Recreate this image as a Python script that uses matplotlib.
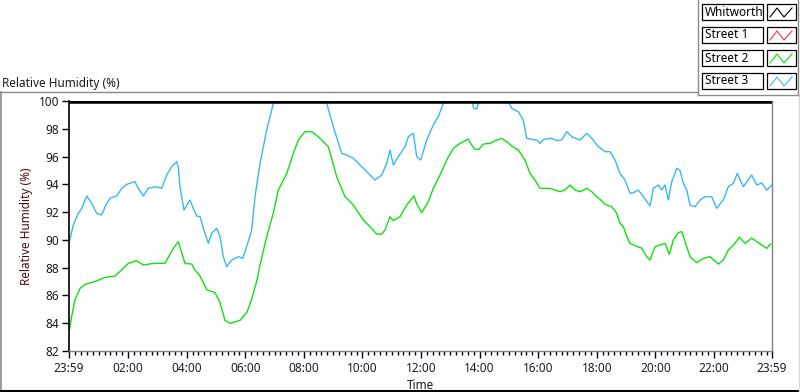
import matplotlib
matplotlib.use("Agg")
import matplotlib.pyplot as plt
from matplotlib.lines import Line2D
from matplotlib.patches import Rectangle
import numpy as np

plt.rcParams['font.family'] = ['Noto Sans', 'DejaVu Sans']

# ---------------- data ----------------
series_names = ["Whitworth", "Street 1", "Street 2", "Street 3"]
series_colors = ["#000000", "#ff3030", "#10e010", "#38b8f0"]

x_tick_labels = ["23:59", "02:00", "04:00", "06:00", "08:00", "10:00", "12:00",
                 "14:00", "16:00", "18:00", "20:00", "22:00", "23:59"]
y_ticks = [82, 84, 86, 88, 90, 92, 94, 96, 98, 100]

# hours since 23:59
whitworth_t = [0.0, 24.0]
whitworth_v = [100.0, 100.0]

street1_t = []
street1_v = []

street2_t = [0.0, 0.102, 0.205, 0.376, 0.546, 0.888, 1.229, 1.570, 1.854, 2.024,
             2.311, 2.537, 2.878, 3.277, 3.561, 3.731, 3.960, 4.189, 4.301, 4.472,
             4.711, 4.984, 5.155, 5.326, 5.496, 5.838, 6.077, 6.248, 6.418, 6.521,
             6.750, 6.975, 7.146, 7.433, 7.658, 7.829, 8.057, 8.286, 8.511, 8.853,
             9.139, 9.423, 9.706, 10.048, 10.276, 10.505, 10.676, 10.788, 10.959, 11.072,
             11.300, 11.529, 11.778, 11.871, 12.041, 12.266, 12.437, 12.666, 12.894, 13.120,
             13.348, 13.632, 13.748, 13.860, 13.997, 14.144, 14.373, 14.601, 14.772, 14.943,
             15.114, 15.339, 15.568, 15.738, 15.909, 16.080, 16.421, 16.762, 16.933, 17.104,
             17.275, 17.446, 17.675, 17.846, 18.017, 18.130, 18.300, 18.529, 18.700, 18.812,
             18.925, 19.041, 19.153, 19.382, 19.553, 19.724, 19.836, 20.006, 20.177, 20.348,
             20.495, 20.632, 20.802, 20.918, 21.031, 21.201, 21.430, 21.655, 21.884, 22.167,
             22.338, 22.509, 22.737, 22.884, 23.078, 23.307, 23.478, 23.649, 23.819, 23.955]
street2_v = [83.4, 84.6, 85.7, 86.5, 86.8, 87.0, 87.3, 87.4, 87.95, 88.31,
             88.5, 88.19, 88.31, 88.31, 89.39, 89.87, 88.31, 88.26, 87.83, 87.4,
             86.4, 86.2, 85.5, 84.2, 84.0, 84.2, 84.8, 85.8, 87.1, 88.19,
             90.24, 91.92, 93.59, 94.79, 96.23, 97.19, 97.79, 97.79, 97.43, 96.71,
             94.55, 93.11, 92.51, 91.43, 90.95, 90.42, 90.42, 90.71, 91.67, 91.39,
             91.67, 92.51, 93.16, 92.6, 91.96, 92.75, 93.71, 94.67, 95.75, 96.59,
             96.95, 97.26, 96.83, 96.52, 96.52, 96.9, 96.95, 97.19, 97.31, 97.07,
             96.76, 96.47, 95.75, 94.79, 94.31, 93.71, 93.71, 93.47, 93.6, 93.95,
             93.59, 93.47, 93.71, 93.47, 93.11, 92.92, 92.56, 92.39, 91.91, 91.19,
             90.95, 90.24, 89.75, 89.53, 89.4, 88.79, 88.55, 89.51, 89.63, 89.75,
             88.96, 89.99, 90.52, 90.6, 89.88, 88.79, 88.36, 88.67, 88.79, 88.26,
             88.55, 89.27, 89.75, 90.19, 89.75, 90.12, 89.88, 89.63, 89.39, 89.7]

street3_t = [0.0, 0.147, 0.317, 0.434, 0.604, 0.775, 0.946, 1.116, 1.287, 1.400,
             1.628, 1.799, 1.970, 2.253, 2.366, 2.537, 2.707, 2.936, 3.165, 3.335,
             3.506, 3.677, 3.731, 3.789, 3.926, 4.131, 4.243, 4.360, 4.472, 4.585,
             4.756, 4.872, 5.042, 5.155, 5.268, 5.384, 5.554, 5.780, 5.930, 6.066,
             6.237, 6.350, 6.521, 6.750, 6.975, 7.030, 7.545, 8.230, 8.797, 9.024,
             9.310, 9.481, 9.706, 10.048, 10.276, 10.447, 10.676, 10.847, 10.959, 11.072,
             11.243, 11.471, 11.584, 11.755, 11.871, 12.007, 12.212, 12.437, 12.608, 12.778,
             13.178, 13.450, 13.758, 13.826, 13.929, 13.973, 14.370, 14.710, 15.032, 15.114,
             15.339, 15.510, 15.626, 15.797, 15.967, 16.080, 16.193, 16.480, 16.651, 16.822,
             16.992, 17.163, 17.446, 17.559, 17.675, 17.846, 18.071, 18.300, 18.470, 18.641,
             18.812, 18.982, 19.153, 19.266, 19.437, 19.608, 19.836, 19.949, 20.120, 20.236,
             20.348, 20.461, 20.577, 20.748, 20.860, 20.973, 21.089, 21.201, 21.372, 21.543,
             21.713, 21.942, 22.113, 22.338, 22.509, 22.680, 22.816, 23.021, 23.307, 23.478,
             23.649, 23.819, 24.0]
street3_v = [89.76, 91.07, 91.91, 92.27, 93.16, 92.63, 91.91, 91.79, 92.63, 93.0,
             93.16, 93.71, 94.0, 94.19, 93.71, 93.16, 93.71, 93.83, 93.71, 94.67,
             95.27, 95.63, 95.27, 93.83, 92.15, 92.87, 92.27, 91.72, 91.68, 90.84,
             89.76, 90.48, 90.84, 90.24, 88.79, 88.07, 88.55, 88.79, 88.67, 89.51,
             90.71, 93.11, 95.51, 97.91, 99.83, 100.3, 101.0, 101.0, 99.83, 98.15,
             96.23, 96.11, 95.87, 95.15, 94.67, 94.31, 94.67, 95.51, 96.47, 95.39,
             95.99, 96.71, 97.43, 97.67, 95.99, 95.75, 97.19, 98.27, 98.87, 99.83,
             100.5, 101.0, 99.9, 99.45, 99.45, 99.85, 100.6, 100.4, 99.85, 99.47,
             99.23, 98.63, 97.31, 97.24, 97.19, 96.95, 97.24, 97.31, 97.15, 97.2,
             97.79, 97.43, 97.19, 97.43, 97.67, 97.31, 96.71, 96.35, 96.35, 95.75,
             94.79, 94.31, 93.36, 93.4, 93.59, 93.11, 92.44, 93.71, 93.95, 93.59,
             93.95, 92.87, 94.19, 95.15, 95.0, 94.07, 93.59, 92.51, 92.39, 92.87,
             93.11, 93.11, 92.27, 92.87, 93.83, 94.07, 94.79, 93.83, 94.67, 93.95,
             94.1, 93.59, 93.95]

# ---------------- figure ----------------
W, H = 800, 392
fig = plt.figure(figsize=(W / 100, H / 100), dpi=100)
fig.patch.set_facecolor("white")


def fx(px):
    return px / W


def fy(py):
    return 1 - py / H


ax = fig.add_axes([fx(69), fy(351), fx(772) - fx(69), fy(101) - fy(351)])
ax.set_xlim(0, 24)
ax.set_ylim(82, 100)

ax.plot(street3_t, street3_v, color=series_colors[3], lw=1.0)
ax.plot(street2_t, street2_v, color=series_colors[2], lw=1.0)
ax.plot(street1_t, street1_v, color=series_colors[1], lw=1.0)
ax.plot(whitworth_t, whitworth_v, color=series_colors[0], lw=4.0, solid_capstyle='butt')

# spines
ax.spines["top"].set_visible(False)
ax.spines["left"].set_color("black")
ax.spines["left"].set_linewidth(1.2)
ax.spines["bottom"].set_color("#808080")
ax.spines["bottom"].set_linewidth(1.0)
ax.spines["right"].set_color("#808080")
ax.spines["right"].set_linewidth(1.0)

major_x = [0.0] + [2 * i + 1 / 60 for i in range(1, 12)] + [24.0]
ax.set_xticks(major_x)
ax.set_xticklabels(x_tick_labels)
minor_x = [v for v in np.arange(1 / 60, 24, 0.2) if min(abs(v - m) for m in major_x) > 0.05]
ax.set_xticks(minor_x, minor=True)
ax.set_yticks(y_ticks)
ax.set_yticklabels([str(v) for v in y_ticks])

ax.tick_params(axis="x", which="major", length=5, width=1, color="black",
               labelsize=8.5, labelcolor="#1a1a2a", pad=3)
ax.tick_params(axis="x", which="minor", length=3, width=1, color="black")
ax.tick_params(axis="y", which="major", length=5, width=1, color="black",
               labelsize=8.5, labelcolor="#1a1a1a", pad=2)

ax.set_xlabel("Time", fontsize=8.5, color="#1a1a1a", labelpad=3)
ax.set_ylabel("Relative Humidity (%)", fontsize=8.5, color="#4a0c0c")
ax.yaxis.set_label_coords((33 - 69) / 703, 0.5)

# outer frame
grey = "#8a8a8a"
fig.add_artist(Line2D([fx(0.5), fx(0.5)], [fy(92), fy(392)], color=grey, lw=1.2))
fig.add_artist(Line2D([fx(0), fx(698)], [fy(92), fy(92)], color=grey, lw=1.0))
fig.add_artist(Line2D([fx(0), fx(800)], [fy(391), fy(391)], color="black", lw=1.5))
fig.add_artist(Line2D([fx(799), fx(799)], [fy(95), fy(392)], color="#d8d8d8", lw=1.0))

# graph title
fig.text(fx(2), fy(83), "Relative Humidity (%)", fontsize=8.5, color="#1a1a1a",
         ha="left", va="center")

# legend panel
fig.add_artist(Line2D([fx(698), fx(698)], [fy(0), fy(95)], color=grey, lw=1.0))
fig.add_artist(Line2D([fx(698), fx(798)], [fy(95), fy(95)], color=grey, lw=1.0))
fig.add_artist(Line2D([fx(798), fx(798)], [fy(0), fy(95)], color=grey, lw=1.0))

row_tops = [4, 27, 50, 73]
row_h = 16
for name, col, top in zip(series_names, series_colors, row_tops):
    fig.add_artist(Rectangle((fx(702), fy(top + row_h)), fx(763) - fx(702),
                             fy(top) - fy(top + row_h), facecolor="white",
                             edgecolor="black", lw=0.9))
    fig.text(fx(705), fy(top + row_h / 2), name, fontsize=8.5, color="black",
             ha="left", va="center")
    fig.add_artist(Rectangle((fx(767), fy(top + row_h)), fx(796) - fx(767),
                             fy(top) - fy(top + row_h), facecolor="white",
                             edgecolor="black", lw=0.9))
    xs = [770, 777, 784, 792]
    ys = [top + 13, top + 4, top + 13, top + 4]
    fig.add_artist(Line2D([fx(v) for v in xs], [fy(v) for v in ys], color=col, lw=0.8))

fig.savefig("out.png", dpi=100, facecolor="white")
